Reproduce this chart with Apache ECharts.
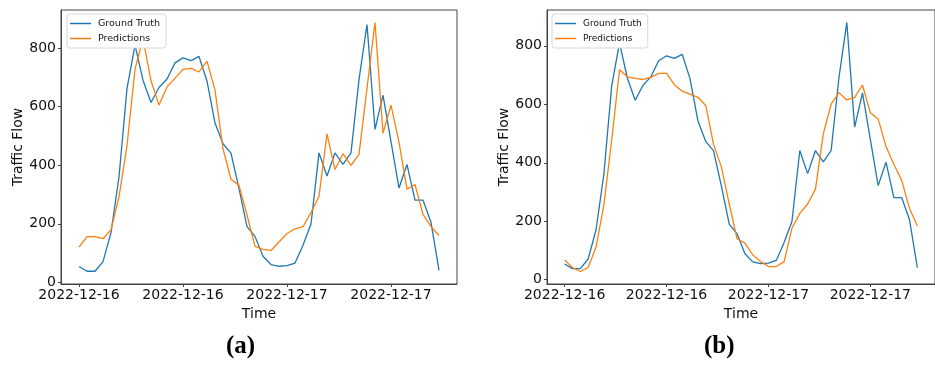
<!DOCTYPE html>
<html>
<head>
<meta charset="utf-8">
<script src="https://cdn.jsdelivr.net/npm/echarts@6/dist/echarts.min.js"></script>
<style>
html,body{margin:0;padding:0;background:#fff;}
#chart{width:935px;height:365px;}
</style>
</head>
<body>
<div id="chart"></div>
<script>
// ---- data ----
var tickLabels = ["2022-12-16", "2022-12-16", "2022-12-17", "2022-12-17"];
var tickIndex = [0, 13, 26, 39];
var yTicks = [0, 200, 400, 600, 800];
var groundTruth = [54, 38, 38, 71, 170, 360, 662, 810, 690, 614, 665, 694, 749, 766, 757, 771, 687, 544, 473, 441, 320, 190, 157, 89, 61, 55, 57, 66, 127, 199, 442, 363, 442, 403, 442, 692, 880, 522, 639, 480, 322, 402, 281, 281, 205, 41];
var predA = [120, 156, 156, 149, 179, 292, 467, 727, 833, 688, 605, 667, 697, 727, 730, 718, 755, 656, 456, 352, 331, 230, 124, 113, 109, 138, 167, 183, 190, 238, 294, 507, 385, 439, 399, 437, 663, 887, 509, 605, 479, 318, 334, 232, 190, 160];
var predB = [68, 42, 28, 42, 111, 255, 477, 718, 694, 689, 685, 692, 706, 706, 667, 645, 635, 624, 596, 463, 386, 259, 140, 125, 85, 62, 45, 45, 62, 176, 227, 259, 310, 499, 601, 640, 615, 624, 666, 571, 550, 456, 395, 340, 244, 184];
var panelLabels = ["(a)", "(b)"];
var seriesNames = ["Ground Truth", "Predictions"];

function pairs(arr){ return arr.map(function(v,i){ return [i, v]; }); }

var chart = echarts.init(document.getElementById('chart'), null, {renderer:'canvas'});
var axisColor = '#444';
var font = 'DejaVu Sans';

function xAxis(gi){
  return {
    type:'value', gridIndex:gi, min:-2.25, max:47.25,
    name:'Time', nameLocation:'middle', nameGap:22,
    nameTextStyle:{fontFamily:font, fontSize:14, color:'#111'},
    axisLine:{show:true, onZero:false, lineStyle:{color:axisColor, width:1}},
    axisTick:{show:true, length:3, customValues:tickIndex, lineStyle:{color:axisColor}},
    axisLabel:{customValues:tickIndex, margin:4, fontFamily:font, fontSize:14, color:'#111',
      formatter:function(v){ var k = tickIndex.indexOf(Math.round(v)); return k>=0 ? tickLabels[k] : ''; }},
    splitLine:{show:false}
  };
}
function yAxis(gi, mn, mx){
  return {
    type:'value', gridIndex:gi, min:mn, max:mx,
    name:'Traffic Flow', nameLocation:'middle', nameGap:36, nameRotate:90,
    nameTextStyle:{fontFamily:font, fontSize:14, color:'#111'},
    axisLine:{show:true, onZero:false, lineStyle:{color:axisColor, width:1}},
    axisTick:{show:true, length:3, customValues:yTicks, lineStyle:{color:axisColor}},
    axisLabel:{customValues:yTicks, margin:5, fontFamily:font, fontSize:14, color:'#111'},
    splitLine:{show:false}
  };
}
function legend(left, top, fs){
  return {
    left:left, top:top, orient:'vertical',
    data:seriesNames,
    icon:'rect', itemWidth:21, itemHeight:1.5, itemGap:4,
    padding:[4,6,4,3],
    backgroundColor:'#fff', borderColor:'#d8d8d8', borderWidth:1, borderRadius:3,
    textStyle:{fontFamily:font, fontSize:fs, color:'#111', lineHeight:11, padding:[0,0,0,2]},
    selectedMode:false
  };
}
function line(name, xi, data, color){
  return {
    name:name, type:'line', xAxisIndex:xi, yAxisIndex:xi, data:pairs(data),
    showSymbol:false, symbol:'none', lineStyle:{color:color, width:1.3}, itemStyle:{color:color},
    animation:false, z:2
  };
}

var option = {
  animation:false,
  backgroundColor:'#fff',
  grid:[
    {left:61, top:10, width:396, height:274, show:true, borderColor:axisColor, borderWidth:1, backgroundColor:'transparent'},
    {left:547, top:10, width:395, height:274, show:true, borderColor:axisColor, borderWidth:1, backgroundColor:'transparent'}
  ],
  xAxis:[xAxis(0), xAxis(1)],
  yAxis:[yAxis(0, -5.5, 929.5), yAxis(1, -14.6, 922.6)],
  legend:[legend(67, 14, 9.5), legend(552, 14, 9)],
  series:[
    line(seriesNames[0], 0, groundTruth, '#1f77b4'),
    line(seriesNames[1], 0, predA, '#ff7f0e'),
    line(seriesNames[0], 1, groundTruth, '#1f77b4'),
    line(seriesNames[1], 1, predB, '#ff7f0e')
  ],
  graphic:[
    {type:'text', left:226, top:334, style:{text:panelLabels[0], font:'bold 25px "Liberation Serif"', fill:'#000'}},
    {type:'text', left:704, top:334, style:{text:panelLabels[1], font:'bold 25px "Liberation Serif"', fill:'#000'}}
  ]
};
chart.setOption(option);
</script>
</body>
</html>
